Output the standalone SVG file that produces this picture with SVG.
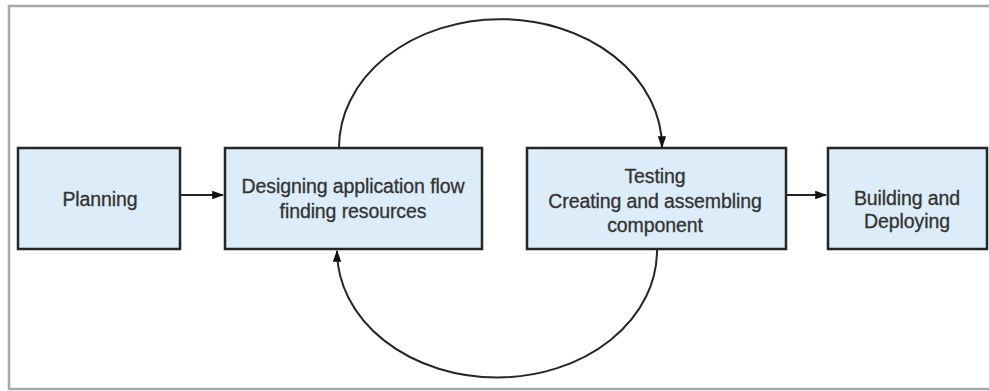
<svg xmlns="http://www.w3.org/2000/svg" width="989" height="391" viewBox="0 0 989 391">
  <style>
    .box { fill: #dcedf9; stroke: #262626; stroke-width: 2.5; }
    .lbl { font-family: "Liberation Sans", Arial, sans-serif; font-size: 19.5px; fill: #333; stroke: #333; stroke-width: 0.3; text-anchor: middle; letter-spacing: -0.1px; }
    .con { fill: none; stroke: #262626; stroke-width: 2; }
    .frame { fill: none; stroke: #a8a8a8; stroke-width: 2.5; }
  </style>
  <defs>
    <marker id="arr" viewBox="0 0 10 10" refX="9" refY="5" markerWidth="6" markerHeight="6" markerUnits="strokeWidth" orient="auto">
      <path d="M0,1.5 L10,5 L0,8.5 z" fill="#111"/>
    </marker>
  </defs>
  <rect width="989" height="391" fill="#fff"/>
  <path class="frame" d="M995,6 L9,6 L9,389 L995,389"/>

  <g id="planning">
    <rect class="box" x="18" y="148" width="162" height="101"/>
    <text class="lbl" x="100" y="206">Planning</text>
  </g>
  <g id="designing">
    <rect class="box" x="225" y="148" width="257" height="101"/>
    <text class="lbl" x="353" y="193">Designing application flow</text>
    <text class="lbl" x="353" y="218">finding resources</text>
  </g>
  <g id="testing">
    <rect class="box" x="527" y="148" width="259" height="101"/>
    <text class="lbl" x="655" y="183">Testing</text>
    <text class="lbl" x="655" y="208">Creating and assembling</text>
    <text class="lbl" x="655" y="232">component</text>
  </g>
  <g id="building">
    <rect class="box" x="828" y="148" width="159" height="101"/>
    <text class="lbl" x="907" y="205">Building and</text>
    <text class="lbl" x="907" y="228">Deploying</text>
  </g>

  <g id="connectors">
    <line class="con" x1="180" y1="195" x2="223" y2="195" marker-end="url(#arr)"/>
    <line class="con" x1="786" y1="195" x2="826" y2="195" marker-end="url(#arr)"/>
    <path class="con" d="M339,148 A161,128 0 0 1 662,147" marker-end="url(#arr)"/>
    <path class="con" d="M657,250 A160,127 0 0 1 337,251" marker-end="url(#arr)"/>
  </g>
</svg>
